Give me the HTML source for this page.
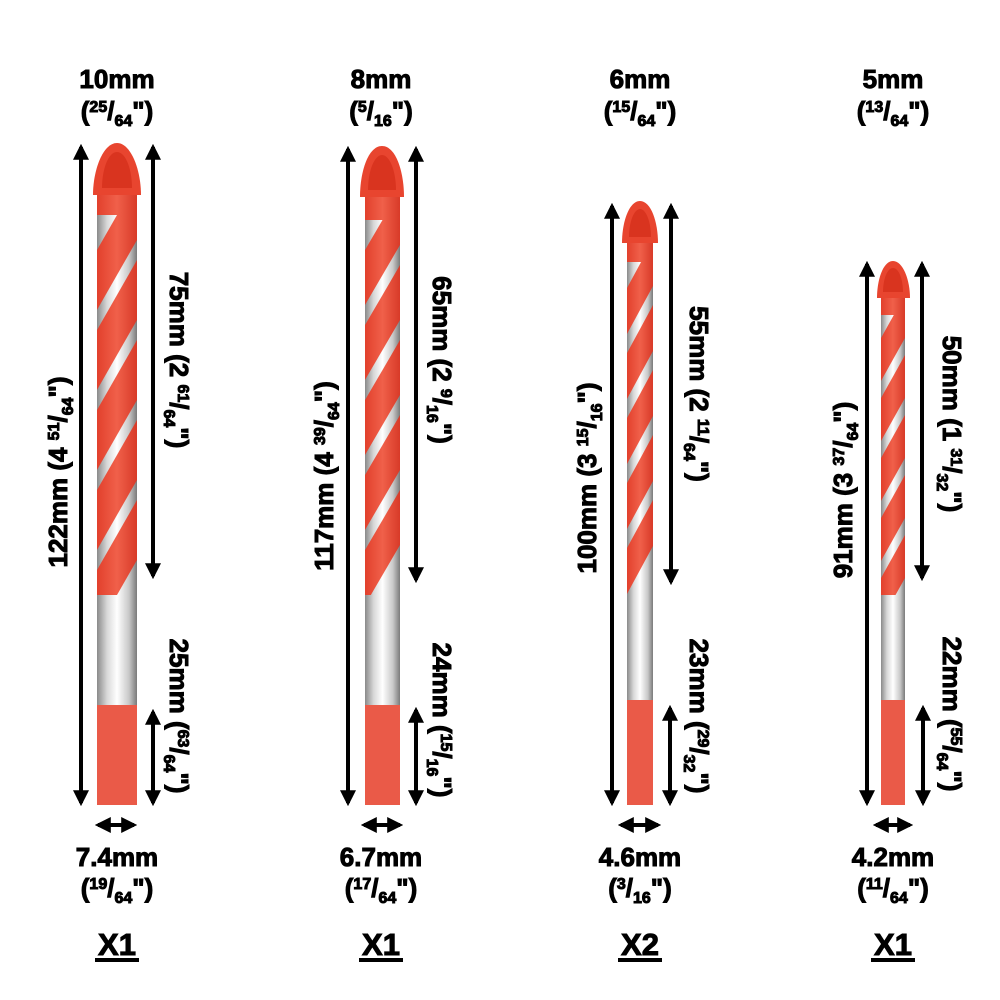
<!DOCTYPE html>
<html><head><meta charset="utf-8"><style>
html,body{margin:0;padding:0;background:#fff;}
svg{display:block;}
text{font-family:"Liberation Sans",Arial,sans-serif;font-weight:bold;fill:#000;stroke:#000;stroke-width:1px;}
</style></head><body>
<svg width="1000" height="1000" viewBox="0 0 1000 1000" xmlns="http://www.w3.org/2000/svg">
<defs>
<linearGradient id="sil" x1="0" x2="1" y1="0" y2="0">
<stop offset="0" stop-color="#8a8a8a"/><stop offset="0.25" stop-color="#d8d8d8"/><stop offset="0.5" stop-color="#ffffff"/><stop offset="0.8" stop-color="#c8c8c8"/><stop offset="1" stop-color="#7a7a7a"/>
</linearGradient>
<linearGradient id="red" x1="0" x2="1" y1="0" y2="0">
<stop offset="0" stop-color="#e2402c"/><stop offset="0.5" stop-color="#f0604a"/><stop offset="1" stop-color="#d83a28"/>
</linearGradient>
<marker id="ah" viewBox="0 0 10 10" refX="8" refY="5" markerWidth="4" markerHeight="4" orient="auto-start-reverse">
<path d="M0,0 L10,5 L0,10 z" fill="#000"/></marker>
</defs>

<!-- BIT 1 -->
<g>
<rect x="97" y="190" width="40" height="615" fill="url(#sil)"/>
<clipPath id="c1"><rect x="97" y="190" width="40" height="405"/></clipPath>
<g clip-path="url(#c1)" fill="url(#red)">
<polygon points="97,250 137,180 137,240 97,310"/>
<polygon points="97,330 137,260 137,320 97,390"/>
<polygon points="97,410 137,340 137,400 97,470"/>
<polygon points="97,490 137,420 137,480 97,550"/>
<polygon points="97,570 137,500 137,560 97,630"/>
<rect x="97" y="180" width="40" height="35"/>
</g>
<rect x="97" y="705" width="40" height="100" fill="#ea5a48"/>
<path d="M117,143 C131,143 141,170 141,195 L93,195 C93,170 103,143 117,143 Z" fill="#e8452f"/>
<path d="M117,152 C126,152 132,170 132,188 L102,188 C102,170 108,152 117,152 Z" fill="#d9341f"/>
</g>
<!-- BIT 2 -->
<g>
<rect x="365" y="195" width="35" height="610" fill="url(#sil)"/>
<clipPath id="c2"><rect x="365" y="195" width="35" height="400"/></clipPath>
<g clip-path="url(#c2)" fill="url(#red)">
<polygon points="365,250 400,190 400,245 365,305"/>
<polygon points="365,325 400,265 400,320 365,380"/>
<polygon points="365,400 400,340 400,395 365,455"/>
<polygon points="365,475 400,415 400,470 365,530"/>
<polygon points="365,550 400,490 400,545 365,605"/>
<rect x="365" y="190" width="35" height="30"/>
</g>
<rect x="365" y="705" width="35" height="100" fill="#ea5a48"/>
<path d="M382,146 C396,146 404,172 404,197 L360,197 C360,172 368,146 382,146 Z" fill="#e8452f"/>
<path d="M382,155 C390,155 396,172 396,190 L368,190 C368,172 374,155 382,155 Z" fill="#d9341f"/>
</g>
<!-- BIT 3 -->
<g>
<rect x="627" y="240" width="26" height="565" fill="url(#sil)"/>
<clipPath id="c3"><rect x="627" y="240" width="26" height="358"/></clipPath>
<g clip-path="url(#c3)" fill="url(#red)">
<polygon points="627,288 653,240 653,286 627,334"/>
<polygon points="627,353 653,305 653,351 627,399"/>
<polygon points="627,418 653,370 653,416 627,464"/>
<polygon points="627,483 653,435 653,481 627,529"/>
<polygon points="627,548 653,500 653,546 627,594"/>
<rect x="627" y="238" width="26" height="24"/>
</g>
<rect x="627" y="700" width="26" height="105" fill="#ea5a48"/>
<path d="M640,201 C651,201 658,222 658,243 L622,243 C622,222 629,201 640,201 Z" fill="#e8452f"/>
<path d="M640,209 C646,209 651,222 651,237 L629,237 C629,222 634,209 640,209 Z" fill="#d9341f"/>
</g>
<!-- BIT 4 -->
<g>
<rect x="881" y="295" width="24" height="510" fill="url(#sil)"/>
<clipPath id="c4"><rect x="881" y="295" width="24" height="300"/></clipPath>
<g clip-path="url(#c4)" fill="url(#red)">
<polygon points="881,338 905,295 905,338 881,381"/>
<polygon points="881,398 905,355 905,398 881,441"/>
<polygon points="881,458 905,415 905,458 881,501"/>
<polygon points="881,518 905,475 905,518 881,561"/>
<polygon points="881,578 905,535 905,578 881,621"/>
<rect x="881" y="293" width="24" height="22"/>
</g>
<rect x="881" y="700" width="24" height="105" fill="#ea5a48"/>
<path d="M893,261 C903,261 910,280 910,298 L877,298 C877,280 883,261 893,261 Z" fill="#e8452f"/>
<path d="M893,268 C899,268 903,280 903,292 L883,292 C883,280 887,268 893,268 Z" fill="#d9341f"/>
</g>

<!-- ARROWS -->
<g stroke="#000" stroke-width="4" marker-start="url(#ah)" marker-end="url(#ah)">
<line x1="81" y1="147" x2="81" y2="803"/>
<line x1="153" y1="147" x2="153" y2="576"/>
<line x1="153" y1="712" x2="153" y2="803"/>
<line x1="98" y1="825" x2="134" y2="825"/>

<line x1="348" y1="149" x2="348" y2="803"/>
<line x1="416" y1="149" x2="416" y2="580"/>
<line x1="416" y1="710" x2="416" y2="803"/>
<line x1="364" y1="825" x2="400" y2="825"/>

<line x1="612" y1="206" x2="612" y2="803"/>
<line x1="671" y1="206" x2="671" y2="582"/>
<line x1="670" y1="708" x2="670" y2="803"/>
<line x1="621" y1="825" x2="658" y2="825"/>

<line x1="867" y1="264" x2="867" y2="803"/>
<line x1="922" y1="264" x2="922" y2="578"/>
<line x1="923" y1="708" x2="923" y2="803"/>
<line x1="876" y1="825" x2="910" y2="825"/>
</g>

<!-- TOP/BOTTOM LABELS -->
<g text-anchor="middle" font-size="26">
<text x="117" y="88">10mm</text>
<text x="117" y="120">(<tspan font-size="16" dy="-8">25</tspan><tspan dy="8">/</tspan><tspan font-size="16" dy="6">64</tspan><tspan dy="-6">")</tspan></text>
<text x="381" y="88">8mm</text>
<text x="381" y="120">(<tspan font-size="16" dy="-8">5</tspan><tspan dy="8">/</tspan><tspan font-size="16" dy="6">16</tspan><tspan dy="-6">")</tspan></text>
<text x="640" y="88">6mm</text>
<text x="640" y="120">(<tspan font-size="16" dy="-8">15</tspan><tspan dy="8">/</tspan><tspan font-size="16" dy="6">64</tspan><tspan dy="-6">")</tspan></text>
<text x="893" y="88">5mm</text>
<text x="893" y="120">(<tspan font-size="16" dy="-8">13</tspan><tspan dy="8">/</tspan><tspan font-size="16" dy="6">64</tspan><tspan dy="-6">")</tspan></text>

<text x="117" y="866">7.4mm</text>
<text x="117" y="897">(<tspan font-size="16" dy="-8">19</tspan><tspan dy="8">/</tspan><tspan font-size="16" dy="6">64</tspan><tspan dy="-6">")</tspan></text>
<text x="381" y="866">6.7mm</text>
<text x="381" y="897">(<tspan font-size="16" dy="-8">17</tspan><tspan dy="8">/</tspan><tspan font-size="16" dy="6">64</tspan><tspan dy="-6">")</tspan></text>
<text x="640" y="866">4.6mm</text>
<text x="640" y="897">(<tspan font-size="16" dy="-8">3</tspan><tspan dy="8">/</tspan><tspan font-size="16" dy="6">16</tspan><tspan dy="-6">")</tspan></text>
<text x="893" y="866">4.2mm</text>
<text x="893" y="897">(<tspan font-size="16" dy="-8">11</tspan><tspan dy="8">/</tspan><tspan font-size="16" dy="6">64</tspan><tspan dy="-6">")</tspan></text>

<text x="117" y="955" font-size="31">X1</text>
<text x="381" y="955" font-size="31">X1</text>
<text x="640" y="955" font-size="31">X2</text>
<text x="893" y="955" font-size="31">X1</text>
</g>
<g fill="#000">
<rect x="95" y="958" width="44" height="4"/>
<rect x="359" y="958" width="44" height="4"/>
<rect x="618" y="958" width="44" height="4"/>
<rect x="871" y="958" width="44" height="4"/>
</g>

<!-- ROTATED LEFT (-90) -->
<g text-anchor="middle" font-size="26">
<text transform="translate(67,472) rotate(-90)">122mm (4 <tspan font-size="16" dy="-8">51</tspan><tspan dy="8">/</tspan><tspan font-size="16" dy="6">64</tspan><tspan dy="-6">")</tspan></text>
<text transform="translate(333,476) rotate(-90)">117mm (4 <tspan font-size="16" dy="-8">39</tspan><tspan dy="8">/</tspan><tspan font-size="16" dy="6">64</tspan><tspan dy="-6">")</tspan></text>
<text transform="translate(596,478) rotate(-90)">100mm (3 <tspan font-size="16" dy="-8">15</tspan><tspan dy="8">/</tspan><tspan font-size="16" dy="6">16</tspan><tspan dy="-6">")</tspan></text>
<text transform="translate(852,490) rotate(-90)">91mm  (3 <tspan font-size="16" dy="-8">37</tspan><tspan dy="8">/</tspan><tspan font-size="16" dy="6">64</tspan><tspan dy="-6">")</tspan></text>
</g>
<!-- ROTATED RIGHT (+90) -->
<g text-anchor="middle" font-size="26">
<text transform="translate(170,360) rotate(90)">75mm (2 <tspan font-size="16" dy="-8">61</tspan><tspan dy="8">/</tspan><tspan font-size="16" dy="6">64</tspan><tspan dy="-6">")</tspan></text>
<text transform="translate(170,716) rotate(90)">25mm (<tspan font-size="16" dy="-8">63</tspan><tspan dy="8">/</tspan><tspan font-size="16" dy="6">64</tspan><tspan dy="-6">")</tspan></text>
<text transform="translate(433,360) rotate(90)">65mm (2 <tspan font-size="16" dy="-8">9</tspan><tspan dy="8">/</tspan><tspan font-size="16" dy="6">16</tspan><tspan dy="-6">")</tspan></text>
<text transform="translate(433,720) rotate(90)">24mm (<tspan font-size="16" dy="-8">15</tspan><tspan dy="8">/</tspan><tspan font-size="16" dy="6">16</tspan><tspan dy="-6">")</tspan></text>
<text transform="translate(690,394) rotate(90)">55mm (2 <tspan font-size="16" dy="-8">11</tspan><tspan dy="8">/</tspan><tspan font-size="16" dy="6">64</tspan><tspan dy="-6">")</tspan></text>
<text transform="translate(690,716) rotate(90)">23mm (<tspan font-size="16" dy="-8">29</tspan><tspan dy="8">/</tspan><tspan font-size="16" dy="6">32</tspan><tspan dy="-6">")</tspan></text>
<text transform="translate(943,424) rotate(90)">50mm (1 <tspan font-size="16" dy="-8">31</tspan><tspan dy="8">/</tspan><tspan font-size="16" dy="6">32</tspan><tspan dy="-6">")</tspan></text>
<text transform="translate(943,714) rotate(90)">22mm (<tspan font-size="16" dy="-8">55</tspan><tspan dy="8">/</tspan><tspan font-size="16" dy="6">64</tspan><tspan dy="-6">")</tspan></text>
</g>
</svg>
</body></html>
